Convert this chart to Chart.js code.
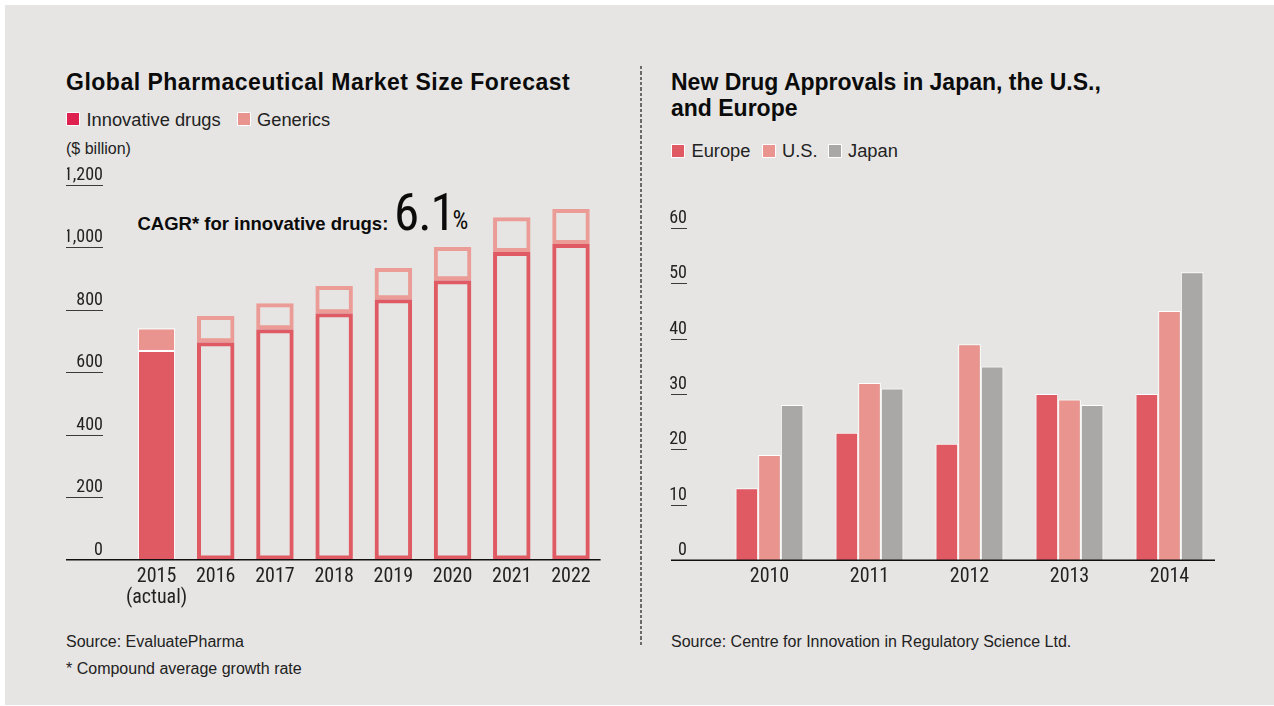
<!DOCTYPE html>
<html>
<head>
<meta charset="utf-8">
<script src="https://cdn.jsdelivr.net/npm/chart.js@4.4.1/dist/chart.umd.min.js"></script>
<style>
  html, body { margin: 0; padding: 0; background: #ffffff; }
  body { width: 1274px; height: 706px; position: relative; overflow: hidden; font-family: 'Liberation Sans', Arial, sans-serif; color: #111; }
  #panel { position: absolute; left: 5px; top: 5px; width: 1269px; height: 700px; background: #E6E5E3; }
  .t { position: absolute; white-space: nowrap; }
  .title { font-weight: bold; font-size: 23px; line-height: 25.5px; color: #0b0b0b; }
  .leg { font-size: 18.3px; line-height: 20px; color: #222; }
  .sq { position: absolute; width: 12px; height: 12px; border: 1px solid #fff; }
  .small { font-size: 16px; line-height: 16px; color: #222; }
  .cond { font-family: 'Roboto', sans-serif; font-stretch: condensed; }
  canvas { position: absolute; }
  #sep { position: absolute; left: 640px; top: 66px; width: 2px; height: 581px;
         background: repeating-linear-gradient(to bottom, #6a6a6a 0px, #6a6a6a 3.3px, transparent 3.3px, transparent 5.33px); }
</style>
</head>
<body>
<div id="panel"></div>

<!-- Left chart texts -->
<div class="t title" style="left:66px; top:70px; letter-spacing:0.5px;">Global Pharmaceutical Market Size Forecast</div>
<div class="sq" style="left:66px; top:112px; background:#DF2150;"></div>
<div class="t leg" style="left:86.5px; top:109.5px;">Innovative drugs</div>
<div class="sq" style="left:236.5px; top:112px; background:#E9948F;"></div>
<div class="t leg" style="left:257px; top:109.5px;">Generics</div>
<div class="t" style="left:66px; top:140px; font-size:16px; line-height:18px; color:#222;">($ billion)</div>

<div class="t" style="left:137.5px; top:215px; font-weight:bold; font-size:18.5px; line-height:18.5px; color:#0b0b0b;">CAGR* for innovative drugs:</div>
<div class="t cond" style="left:394px; top:187.1px; font-size:51px; line-height:51px; letter-spacing:-1px; color:#0b0b0b;">6.1</div>
<div class="t cond" style="left:452.5px; top:208.3px; font-size:25px; line-height:25px; color:#0b0b0b;">%</div>

<div class="t small" style="left:66px; top:633.5px;">Source: EvaluatePharma</div>
<div class="t small" style="left:66px; top:660.5px;">* Compound average growth rate</div>

<div id="sep"></div>

<!-- Right chart texts -->
<div class="t title" style="left:671px; top:70px;">New Drug Approvals in Japan, the U.S.,<br>and Europe</div>
<div class="sq" style="left:671px; top:144px; background:#E05A64;"></div>
<div class="t leg" style="left:691.5px; top:140.5px;">Europe</div>
<div class="sq" style="left:761.5px; top:144px; background:#E9948F;"></div>
<div class="t leg" style="left:782px; top:140.5px;">U.S.</div>
<div class="sq" style="left:827.5px; top:144px; background:#A9A8A6;"></div>
<div class="t leg" style="left:848px; top:140.5px;">Japan</div>

<div class="t small" style="left:671px; top:633.5px;">Source: Centre for Innovation in Regulatory Science Ltd.</div>

<canvas id="left" width="580" height="480" style="left:40px; top:140px; width:580px; height:480px;"></canvas>
<canvas id="right" width="600" height="442" style="left:650px; top:178.2px; width:600px; height:442px;"></canvas>

<script>
// ---------- DATA ----------
const marketYears = [['2015', '(actual)'], '2016', '2017', '2018', '2019', '2020', '2021', '2022'];
const innovativeDrugs = [668, 696, 738, 789, 834, 895, 985, 1011];   // $ billion
const generics        = [73, 84, 83, 87, 100, 106, 112, 112];        // $ billion (stacked on top)
const marketTickMax = 1200;
const marketTickStep = 200;

const approvalYears = ['2010', '2011', '2012', '2013', '2014'];
const europe = [13, 23, 21, 30, 30];
const us     = [19, 32, 39, 29, 45];
const japan  = [28, 31, 35, 28, 52];
const approvalTickMax = 60;
const approvalTickStep = 10;

// ---------- STYLE ----------
const RED = '#E05A64';
const PINK = '#E9948F';
const PINK_OUTLINE = '#EC9C97';
const GRAY = '#A9A8A6';

Chart.defaults.font.family = "Roboto, 'Liberation Sans', sans-serif";
Chart.defaults.font.weight = 'condensed';
Chart.defaults.color = '#222';
Chart.defaults.animation = false;

const axisDecor = {
  id: 'axisDecor',
  afterDatasetsDraw(chart, args, opts) {
    const { ctx, chartArea, scales } = chart;
    const y = scales.y;
    ctx.save();
    ctx.strokeStyle = opts.underlineColor;
    ctx.lineWidth = 1;
    y.ticks.forEach(t => {
      if (t.value === 0) return;
      const py = Math.round(y.getPixelForValue(t.value)) + 0.5;
      ctx.beginPath();
      ctx.moveTo(opts.x0, py);
      ctx.lineTo(opts.x1, py);
      ctx.stroke();
    });
    ctx.strokeStyle = '#111';
    ctx.lineWidth = 1.5;
    const by = chartArea.bottom + 0.25;
    ctx.beginPath();
    ctx.moveTo(opts.x0, by);
    ctx.lineTo(chartArea.right + opts.extendRight, by);
    ctx.stroke();
    ctx.restore();
  }
};

// ---------- LEFT CHART ----------
const isActual = i => i === 0;
new Chart(document.getElementById('left'), {
  type: 'bar',
  data: {
    labels: marketYears,
    datasets: [
      {
        label: 'Innovative drugs',
        data: innovativeDrugs,
        stack: 's',
        backgroundColor: c => isActual(c.dataIndex) ? RED : 'rgba(0,0,0,0)',
        borderColor: c => isActual(c.dataIndex) ? '#ffffff' : RED,
        borderWidth: c => isActual(c.dataIndex) ? { left: 1.2, right: 1.2, top: 1, bottom: 0 } : 4,
        borderSkipped: false,
        inflateAmount: 0,
        barPercentage: 0.633,
        categoryPercentage: 1
      },
      {
        label: 'Generics',
        data: generics,
        stack: 's',
        backgroundColor: c => isActual(c.dataIndex) ? PINK : 'rgba(0,0,0,0)',
        borderColor: c => isActual(c.dataIndex) ? '#ffffff' : PINK_OUTLINE,
        borderWidth: c => isActual(c.dataIndex) ? { left: 1.2, right: 1.2, top: 1.2, bottom: 1 } : 4,
        borderSkipped: false,
        inflateAmount: 0,
        barPercentage: 0.633,
        categoryPercentage: 1
      }
    ]
  },
  options: {
    responsive: false,
    animation: false,
    layout: { padding: { left: 26.9, right: 19.4, top: 45, bottom: 0 } },
    plugins: {
      legend: { display: false },
      tooltip: { enabled: false },
      axisDecor: { x0: 26, x1: 63, extendRight: 0, underlineColor: '#3a3a3a' }
    },
    scales: {
      x: {
        stacked: true,
        offset: true,
        grid: { display: false, drawTicks: false },
        border: { display: false },
        ticks: { font: { size: 20, lineHeight: 1.05 }, color: '#222', padding: 6.5, maxRotation: 0, autoSkip: false },
        afterFit: s => { s.height = 60.5; }
      },
      y: {
        stacked: true,
        min: 0,
        max: marketTickMax,
        grid: { display: false, drawTicks: false },
        border: { display: false },
        ticks: {
          stepSize: marketTickStep,
          font: { size: 18 },
          color: '#222',
          padding: 24,
          labelOffset: -9.5,
          callback: v => v.toLocaleString('en-US')
        },
        afterFit: s => { s.width = 60; }
      }
    }
  },
  plugins: [axisDecor]
});

// ---------- RIGHT CHART ----------
const approvalDataset = (label, data, color) => ({
  label, data,
  backgroundColor: color,
  borderColor: '#ffffff',
  borderWidth: 1,
  borderSkipped: 'start',
  inflateAmount: 0,
  barPercentage: 1,
  categoryPercentage: 0.68
});

new Chart(document.getElementById('right'), {
  type: 'bar',
  data: {
    labels: approvalYears,
    datasets: [
      approvalDataset('Europe', europe, RED),
      approvalDataset('U.S.', us, PINK),
      approvalDataset('Japan', japan, GRAY)
    ]
  },
  options: {
    responsive: false,
    animation: false,
    layout: { padding: { left: 19.5, right: 30.5, top: 50, bottom: 0 } },
    plugins: {
      legend: { display: false },
      tooltip: { enabled: false },
      axisDecor: { x0: 21, x1: 37, extendRight: -4.5, underlineColor: '#3a3a3a' }
    },
    scales: {
      x: {
        offset: true,
        grid: { display: false, drawTicks: false },
        border: { display: false },
        ticks: { font: { size: 20, lineHeight: 1.05 }, color: '#222', padding: 6.5, maxRotation: 0 },
        afterFit: s => { s.height = 59.9; }
      },
      y: {
        min: 0,
        max: approvalTickMax,
        grid: { display: false, drawTicks: false },
        border: { display: false },
        ticks: { stepSize: approvalTickStep, font: { size: 18 }, color: '#222', padding: 32.5, labelOffset: -9.5 },
        afterFit: s => { s.width = 50; }
      }
    }
  },
  plugins: [axisDecor]
});
</script>
</body>
</html>
